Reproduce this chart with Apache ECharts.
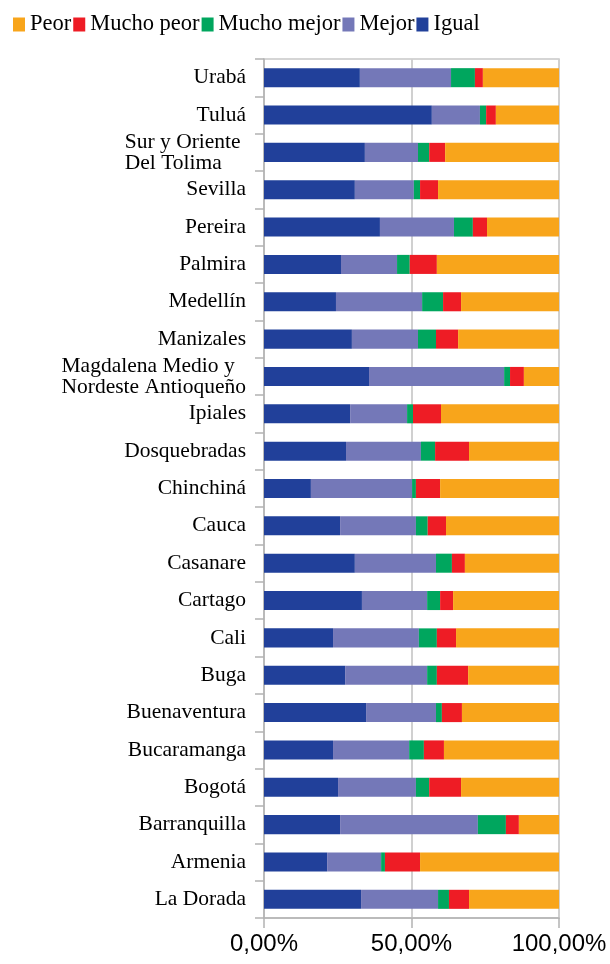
<!DOCTYPE html>
<html>
<head>
<meta charset="utf-8">
<script src="https://cdn.jsdelivr.net/npm/echarts@6/dist/echarts.min.js"></script>
<style>
  html, body { margin: 0; padding: 0; background: #fff; }
  #chart { width: 610px; height: 964px; }
</style>
</head>
<body>
<div id="chart"></div>
<script>
// categorias de arriba hacia abajo
var categories = [
  "Urabá", "Tuluá", "Sur y Oriente \nDel Tolima", "Sevilla", "Pereira", "Palmira",
  "Medellín", "Manizales", "Magdalena Medio y\nNordeste Antioqueño", "Ipiales",
  "Dosquebradas", "Chinchiná", "Cauca", "Casanare", "Cartago", "Cali", "Buga",
  "Buenaventura", "Bucaramanga", "Bogotá", "Barranquilla", "Armenia", "La Dorada"
];

// porcentajes
var igual      = [32.5, 56.9, 34.2, 30.8, 39.3, 26.1, 24.4, 29.8, 35.6, 29.2, 27.8, 15.9, 25.8, 30.8, 33.2, 23.4, 27.5, 34.6, 23.4, 25.1, 25.8, 21.4, 32.9];
var mejor      = [30.9, 16.3, 18.0, 20.0, 25.1, 19.0, 29.2, 22.4, 45.8, 19.3, 25.4, 34.3, 25.7, 27.5, 22.1, 29.1, 27.8, 23.7, 25.8, 26.4, 46.7, 18.3, 26.1];
var muchoMejor = [8.1, 2.1, 3.8, 2.1, 6.4, 4.3, 7.1, 6.1, 2.0, 2.0, 4.8, 1.3, 4.0, 5.4, 4.4, 6.1, 3.3, 2.0, 5.0, 4.5, 9.5, 1.3, 3.7];
var muchoPeor  = [2.7, 3.3, 5.4, 6.1, 4.8, 9.2, 6.1, 7.5, 4.7, 9.5, 11.5, 8.2, 6.2, 4.4, 4.4, 6.5, 10.6, 6.8, 6.8, 10.8, 4.4, 11.9, 6.8];
var peor       = [25.8, 21.4, 38.6, 41.0, 24.4, 41.4, 33.2, 34.2, 11.9, 40.0, 30.5, 40.3, 38.3, 31.9, 35.9, 34.9, 30.8, 32.9, 39.0, 33.2, 13.6, 47.1, 30.5];

var chart = echarts.init(document.getElementById("chart"));

function serie(name, data, color) {
  return {
    name: name,
    type: "bar",
    stack: "total",
    barWidth: "51%",
    itemStyle: { color: color },
    data: data
  };
}

var option = {
  animation: false,
  backgroundColor: "#fff",
  legend: {
    left: 8,
    top: 8,
    itemWidth: 12,
    itemHeight: 14,
    itemGap: 2,
    icon: "rect",
    textStyle: { fontFamily: "Liberation Serif", fontSize: 22.5, color: "#000" },
    data: ["Peor", "Mucho peor", "Mucho mejor", "Mejor", "Igual"]
  },
  grid: {
    left: 264,
    right: 51,
    top: 59,
    bottom: 46,
    show: true,
    borderColor: "#c8c8c8",
    borderWidth: 1.5
  },
  xAxis: {
    type: "value",
    min: 0,
    max: 100,
    interval: 50,
    axisLine: { show: true, lineStyle: { color: "#b3b3b3", width: 1.5 } },
    axisTick: { show: true, length: 10, lineStyle: { color: "#b3b3b3", width: 1.5 } },
    splitLine: { show: true, lineStyle: { color: "#d0d0d0", width: 2 } },
    axisLabel: {
      fontFamily: "Liberation Sans",
      fontSize: 24,
      color: "#000",
      margin: 14,
      formatter: function (v) { return v.toFixed(2).replace(".", ",") + "%"; }
    }
  },
  yAxis: {
    type: "category",
    inverse: true,
    data: categories,
    axisLine: { show: true, lineStyle: { color: "#b3b3b3", width: 1.5 } },
    axisTick: { show: true, length: 9, lineStyle: { color: "#b3b3b3", width: 1.5 } },
    axisLabel: {
      margin: 18,
      // lineas alineadas a la izquierda dentro del bloque
      formatter: function (v) {
        return v.split("\n").map(function (s) { return "{l|" + s + "}"; }).join("\n");
      },
      rich: {
        l: {
          fontFamily: "Liberation Serif",
          fontSize: 21.5,
          lineHeight: 21,
          color: "#000",
          align: "left"
        }
      }
    }
  },
  series: [
    serie("Igual", igual, "#21409A"),
    serie("Mejor", mejor, "#7478B8"),
    serie("Mucho mejor", muchoMejor, "#00A65E"),
    serie("Mucho peor", muchoPeor, "#EE1C25"),
    serie("Peor", peor, "#F8A51B")
  ]
};

chart.setOption(option);
</script>
</body>
</html>
